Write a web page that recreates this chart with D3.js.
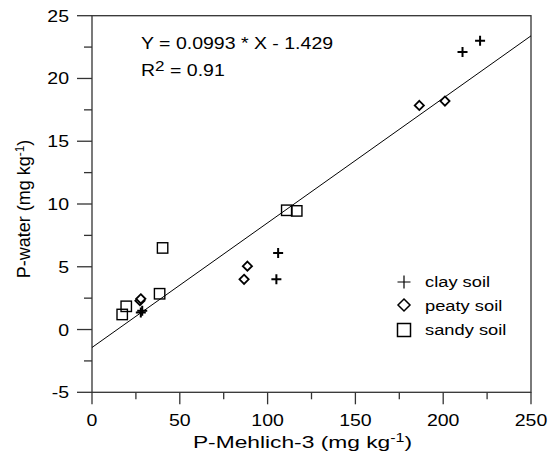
<!DOCTYPE html>
<html><head><meta charset="utf-8">
<script src="https://cdn.jsdelivr.net/npm/d3@7"></script>
<style>body{margin:0;background:#fff}svg{display:block}text{font-family:"Liberation Sans",Arial,sans-serif;fill:#000}</style>
</head><body><svg id="c" width="554" height="461"></svg>
<script>
const clayX = [211, 221, 106, 105, 27.8, 28.6];
const clayY = [22.1, 23.0, 6.1, 4.0, 1.35, 1.5];
const peatyX = [186.4, 201, 88.5, 86.6, 27.3, 27.8];
const peatyY = [17.85, 18.2, 5.05, 4.0, 2.3, 2.45];
const sandyX = [110.9, 116.6, 40.2, 38.5, 19.5, 17.2];
const sandyY = [9.5, 9.45, 6.5, 2.85, 1.85, 1.2];
const xTicks = [0, 50, 100, 150, 200, 250];
const yTicks = [-5, 0, 5, 10, 15, 20, 25];
const slope = 0.0993, intercept = -1.429;
const legendLabels = ["clay soil", "peaty soil", "sandy soil"];

const svg = d3.select("#c");
const L = 92, R = 531, T = 15.7, B = 392.3;
const x = d3.scaleLinear().domain([0, 250]).range([L, R]);
const y = d3.scaleLinear().domain([-5, 25]).range([B, T]);
const SX = 1.22;
const axisCol = "#333";

// frame
svg.append("rect").attr("x", L).attr("y", T).attr("width", R - L).attr("height", B - T)
  .attr("fill", "none").attr("stroke", axisCol).attr("stroke-width", 1.3);

// y axis ticks
const yMinor = d3.range(-5, 25.01, 2.5);
yMinor.forEach(v => {
  const major = Math.abs(v % 5) < 1e-9;
  svg.append("line").attr("x1", L).attr("x2", L - (major ? 15 : 8))
    .attr("y1", y(v)).attr("y2", y(v)).attr("stroke", axisCol).attr("stroke-width", 1.3);
});
yTicks.forEach(v => {
  svg.append("text").attr("transform", `translate(${L - 23},${y(v) + 6}) scale(${SX},1)`)
    .attr("text-anchor", "end").attr("font-size", 16).text(v);
});
// x axis ticks
const xMinor = d3.range(0, 250.01, 25);
xMinor.forEach(v => {
  const major = v % 50 === 0;
  svg.append("line").attr("x1", x(v)).attr("x2", x(v))
    .attr("y1", B).attr("y2", B + (major ? 12 : 7)).attr("stroke", axisCol).attr("stroke-width", 1.3);
});
xTicks.forEach(v => {
  svg.append("text").attr("transform", `translate(${x(v)},${B + 34}) scale(${SX},1)`)
    .attr("text-anchor", "middle").attr("font-size", 16).text(v);
});

// axis titles
const xt = svg.append("text").attr("transform", `translate(302.5,${B + 56}) scale(1.34,1)`)
  .attr("text-anchor", "middle").attr("font-size", 17);
xt.append("tspan").text("P-Mehlich-3 (mg kg");
xt.append("tspan").attr("font-size", 12).attr("dy", -6).text("-1");
xt.append("tspan").attr("dy", 6).text(")");

const yt = svg.append("text").attr("transform", `translate(30,209) rotate(-90)`)
  .attr("text-anchor", "middle").attr("font-size", 18);
yt.append("tspan").text("P-water (mg kg");
yt.append("tspan").attr("font-size", 12).attr("dy", -6).text("-1");
yt.append("tspan").attr("dy", 6).text(")");

// regression line
svg.append("clipPath").attr("id", "cp").append("rect")
  .attr("x", L).attr("y", T).attr("width", R - L).attr("height", B - T);
svg.append("line").attr("clip-path", "url(#cp)")
  .attr("x1", x(0)).attr("y1", y(intercept)).attr("x2", x(250)).attr("y2", y(slope * 250 + intercept))
  .attr("stroke", "#000").attr("stroke-width", 1);

// equation
svg.append("text").attr("transform", `translate(141,49) scale(${SX},1)`).attr("font-size", 16)
  .text(`Y = ${slope} * X - ${Math.abs(intercept)}`);
const r2 = svg.append("text").attr("transform", `translate(141,76) scale(${SX},1)`).attr("font-size", 16);
r2.append("tspan").text("R");
r2.append("tspan").attr("font-size", 14).attr("dy", -5).text("2");
r2.append("tspan").attr("dy", 5).text(" = 0.91");

// markers
function plus(g, cx, cy, s, w) {
  g.append("path").attr("d", `M${cx - s},${cy}H${cx + s}M${cx},${cy - s}V${cy + s}`)
    .attr("stroke", "#000").attr("stroke-width", w).attr("fill", "none");
}
function diamond(g, cx, cy, s, w) {
  g.append("path").attr("d", `M${cx},${cy - s}L${cx + s},${cy}L${cx},${cy + s}L${cx - s},${cy}Z`)
    .attr("stroke", "#000").attr("stroke-width", w).attr("fill", "#fff");
}
function square(g, cx, cy, s, w) {
  g.append("rect").attr("x", cx - s).attr("y", cy - s).attr("width", 2 * s).attr("height", 2 * s)
    .attr("stroke", "#000").attr("stroke-width", w).attr("fill", "none");
}
const pts = svg.append("g");
sandyX.forEach((v, i) => square(pts, x(v), y(sandyY[i]), 5.2, 1.4));
peatyX.forEach((v, i) => diamond(pts, x(v), y(peatyY[i]), 4.6, 1.8));
clayX.forEach((v, i) => plus(pts, x(v), y(clayY[i]), 5, 2));

// legend
const lg = svg.append("g");
const lx = 404, ly = [282, 306, 330];
plus(lg, lx, ly[0], 6.5, 1.2);
diamond(lg, lx, ly[1] - 1, 6, 1.5);
square(lg, lx, ly[2], 6.5, 1.5);
legendLabels.forEach((t, i) => {
  lg.append("text").attr("transform", `translate(425,${ly[i] + 5}) scale(${SX},1)`)
    .attr("font-size", 15).text(t);
});
</script></body></html>
